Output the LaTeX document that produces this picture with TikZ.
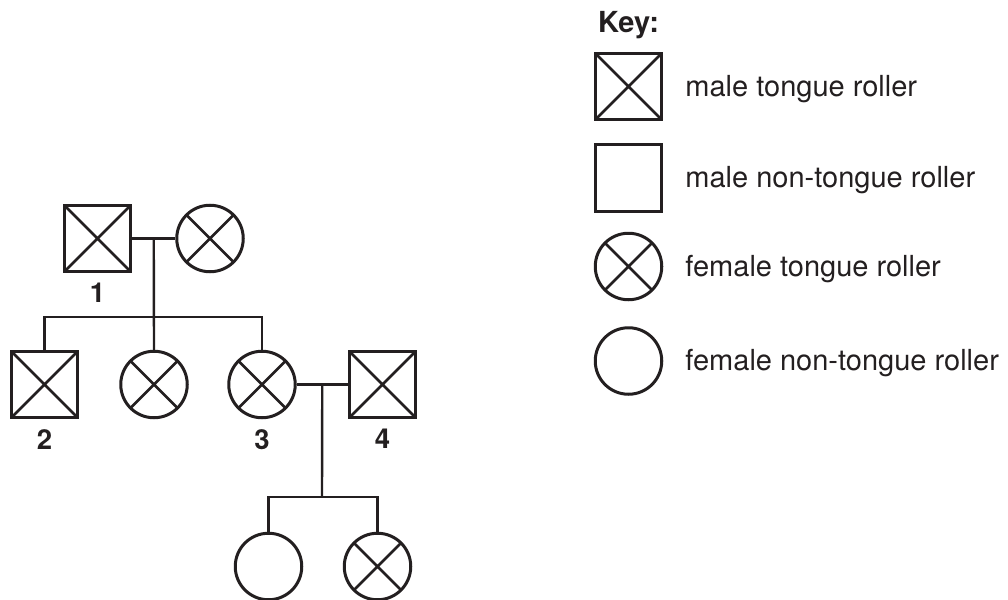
\documentclass[tikz,border=0pt]{standalone}
\usepackage{fontspec}
\setmainfont{TeX Gyre Heros}
\usetikzlibrary{positioning}
\definecolor{ink}{HTML}{231F20}

\tikzset{
  person/.style = {draw = ink, line width = 3pt, inner sep = 0pt, minimum size = 66.5pt},
  male/.style = {person, rectangle},
  female/.style = {person, circle},
  roller/.style = {path picture = {
    \draw[ink, line width = 2.5pt] (path picture bounding box.north west) -- (path picture bounding box.south east)
      (path picture bounding box.north east) -- (path picture bounding box.south west);}},
  line/.style = {ink, line width = 2.4pt},
  num/.style = {font = \fontsize{27.5}{32}\selectfont\bfseries, text = ink, inner sep = 0pt},
  keytext/.style = {font = \fontsize{29}{35}\selectfont, text = ink, inner sep = 0pt,
    text height = 19pt, text depth = 0pt}
}

\begin{document}
\begin{tikzpicture}[x = 1pt, y = -1pt]
\useasboundingbox (0,0) rectangle (1008,599);

\node[male, roller] (p1) at (97.5,238.5) {};
\node[female, roller] (p1w) at (210,238.5) {};

\node[male, roller] (p2) at (44.5,384.5) {};
\node[female, roller] (sis) at (154,384.5) {};
\node[female, roller] (p3) at (262,384.5) {};
\node[male, roller] (p4) at (382.5,384.5) {};

\node[female] (d1) at (268.5,566.5) {};
\node[female, roller] (d2) at (377.5,566.5) {};

\node[num, below = 10pt of p1] (n1) {1};
\node[num, below = 10pt of p2] (n2) {2};
\node[num, below = 10pt of p3] (n3) {3};
\node[num, below = 10pt of p4] (n4) {4};

\draw[line] (p1.east) -- coordinate[midway] (m1) (p1w.west);
\coordinate (s1) at (154,317);
\draw[line] (m1) -- (sis.north);
\draw[line] (p2.north) |- (s1) -| (p3.north);

\draw[line] (p3.east) -- coordinate[midway] (m2) (p4.west);
\coordinate (s2) at (322,497);
\draw[line] (m2) -- (s2);
\draw[line] (d1.north) |- (s2) -| (d2.north);

\node[anchor = base west, font = \fontsize{29}{35}\selectfont\bfseries, text = ink, inner sep = 0pt]
  (keyhead) at (598,33) {Key:};

\node[male, roller] (k1) at (628.5,86.5) {};
\node[male] (k2) at (628.5,178) {};
\node[female, roller] (k3) at (628.5,266.5) {};
\node[female] (k4) at (628.5,361) {};

\node[keytext, right = 22pt of k1] (t1) {male tongue roller};
\node[keytext, right = 22pt of k2] (t2) {male non-tongue roller};
\node[keytext, right = 22pt of k3] (t3) {female tongue roller};
\node[keytext, right = 22pt of k4] (t4) {female non-tongue roller};
\end{tikzpicture}
\end{document}
